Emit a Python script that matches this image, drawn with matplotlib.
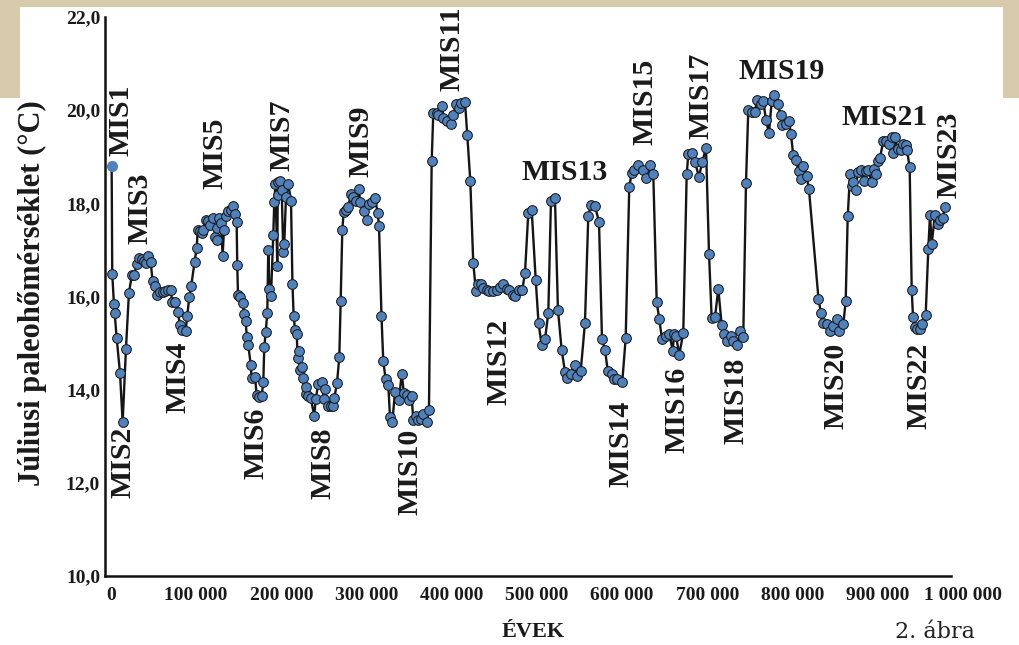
"""
July palaeotemperature curve for the last one million years (MIS stages).
"""
import matplotlib
matplotlib.use('Agg')
import matplotlib.pyplot as plt
from matplotlib.patches import Rectangle

# Age of each sample (thousand years) and reconstructed July temperature (°C)
age_ka = [
    0.8, 1.5, 3.5, 4.3, 6.7, 10.6, 13.7, 17.6, 21.1, 24.6, 27.3, 30.2, 33.2, 36.0, 39.1, 41.1,
    43.8, 46.6, 48.9, 51.6, 54.3, 57.5, 60.7, 63.7, 67.3, 70.4, 71.6, 75.5, 78.6, 81.0, 83.7, 87.7,
    89.6, 91.9, 94.1, 98.2, 100.6, 101.8, 104.5, 106.8, 108.3, 111.5, 114.2, 116.2, 120.1, 122.4,
    124.1, 124.8, 127.1, 128.8, 131.1, 132.6, 135.0, 137.7, 140.8, 143.5, 145.5, 147.5, 148.2,
    149.1, 151.4, 154.6, 156.1, 157.9, 159.6, 161.2, 164.0, 165.1, 169.0, 171.0, 174.1, 176.9,
    178.8, 179.9, 181.6, 183.5,
    184.6, 186.0, 187.8, 190.5, 191.7, 193.1, 195.2, 195.7, 196.4, 198.4, 200.4, 202.2, 203.4,
    205.4, 208.1, 211.3, 213.0, 214.4, 216.0, 218.0, 219.1, 220.7, 221.8, 223.8, 225.7, 228.5,
    229.2, 231.6, 234.4, 238.6, 240.3, 243.3, 247.3, 250.0, 251.2, 254.3, 258.2, 260.2, 262.1,
    265.3, 268.0, 269.6, 271.5, 273.1, 275.5, 278.5, 281.7, 284.4, 287.6, 291.1, 292.3, 297.3,
    300.1, 302.8, 306.0, 309.9, 313.0, 314.6, 317.5, 319.6, 322.4, 325.5, 327.5, 330.2, 333.3,
    338.0, 341.2, 343.9, 347.8, 349.8, 352.9, 354.8, 358.0, 360.7, 363.5, 366.5, 370.5, 373.2,
    376.4, 378.3, 382.3, 384.2, 388.8, 390.0, 394.0, 398.7, 401.8, 404.9, 408.5, 410.8, 415.5,
    418.2, 421.7, 425.2, 428.4, 431.1, 433.9, 437.0, 441.0, 444.0, 448.0, 452.7, 456.6, 460.4,
    464.4, 467.5, 471.5, 474.2, 479.2, 482.7, 485.9, 489.8, 493.8, 498.5, 501.8, 505.5, 509.4,
    513.3, 516.4, 521.1, 524.6, 529.0, 532.9, 535.6, 539.6, 544.6, 547.3, 551.3, 556.3, 560.2,
    563.4, 568.1, 572.8, 576.3, 579.8, 583.0, 587.7, 590.7, 594.3, 600.1, 604.1, 608.3, 611.2,
    614.2, 618.9, 624.1, 627.9, 632.6, 636.5, 640.5, 643.5, 646.7, 651.1, 655.3, 659.3, 661.0,
    663.2, 667.0, 671.7, 675.7, 677.6, 682.3, 685.4, 690.1, 694.0, 698.4, 701.9, 705.0, 708.9,
    712.8, 716.8, 719.8, 722.7, 727.7, 730.4, 734.4, 738.6, 742.1, 745.3, 748.0, 752.7, 755.9,
    757.9, 762.9, 765.6, 768.8, 772.3, 775.5, 778.5, 782.5, 786.0, 787.9, 792.3, 795.8, 798.1,
    800.8, 803.6, 807.5, 809.9, 812.6, 816.5, 819.2, 830.4, 833.3, 836.0, 840.0, 843.9, 847.8,
    851.8, 854.5, 859.5, 862.3, 864.7, 867.4, 869.4, 871.2, 874.1, 876.4, 880.3, 883.8, 886.2,
    888.8, 892.8, 895.9, 897.5, 899.9, 902.6, 906.5, 909.3, 913.1, 917.0, 918.2, 920.2, 923.4,
    927.2, 929.9, 932.7, 934.3, 937.4, 939.8, 941.3, 943.7, 946.4, 949.5, 952.2, 956.2, 959.3,
    961.3, 963.2, 967.1, 970.3, 973.0, 976.1, 978.9,
]
temp_c = [
    18.80, 16.49, 15.83, 15.65, 15.11, 14.36, 13.30, 14.88, 16.08, 16.47, 16.47, 16.69, 16.83,
    16.81, 16.77, 16.72, 16.88, 16.74, 16.33, 16.22, 16.04, 16.09, 16.09, 16.11, 16.15, 16.15,
    15.88, 15.88, 15.66, 15.39, 15.28, 15.27, 15.59, 15.99, 16.22, 16.75, 17.04, 17.42, 17.40,
    17.36, 17.43, 17.65, 17.63, 17.53, 17.69, 17.28, 17.22, 17.48, 17.69, 17.58, 16.88, 17.42,
    17.72, 17.83, 17.85, 17.94, 17.78, 17.60, 16.68, 16.04, 15.99, 15.86, 15.63, 15.47, 15.13,
    14.95, 14.54, 14.25, 14.28, 13.89, 13.85, 13.87, 14.16, 14.91, 15.23, 15.65,
    16.99, 16.17, 16.01, 17.33, 18.03, 18.42, 16.65, 18.17, 18.46, 18.49, 18.28, 16.95, 17.13,
    18.14, 18.42, 18.06, 16.27, 15.59, 15.29, 15.20, 14.68, 14.82, 14.42, 14.48, 14.25, 13.91,
    14.05, 13.87, 13.82, 13.44, 13.80, 14.12, 14.16, 13.80, 14.01, 13.66, 13.64, 13.66, 13.82,
    14.14, 14.71, 15.90, 17.42, 17.81, 17.85, 17.92, 18.21, 18.14, 18.05, 18.30, 18.03, 17.83,
    17.65, 17.98, 18.03, 18.12, 17.79, 17.51, 15.58, 14.61, 14.22, 14.09, 13.42, 13.30, 13.94,
    13.78, 14.34, 13.92, 13.89, 13.78, 13.87, 13.35, 13.44, 13.35, 13.37, 13.48, 13.30, 13.56,
    18.90, 19.94, 19.93, 19.89, 20.09, 19.84, 19.77, 19.70, 19.89, 20.14, 20.04, 20.16, 20.18,
    19.46, 18.49, 16.72, 16.11, 16.27, 16.26, 16.19, 16.13, 16.11, 16.11, 16.14, 16.20, 16.26,
    16.17, 16.13, 16.04, 16.02, 16.14, 16.14, 16.50, 17.79, 17.86, 16.36, 15.43, 14.95, 15.08,
    15.65, 18.05, 18.12, 15.71, 14.85, 14.38, 14.25, 14.34, 14.52, 14.30, 14.39, 15.43, 17.72,
    17.96, 17.94, 17.60, 15.08, 14.86, 14.41, 14.34, 14.22, 14.22, 14.17, 15.10, 18.35, 18.66,
    18.72, 18.82, 18.71, 18.54, 18.82, 18.62, 15.88, 15.52, 15.09, 15.16, 15.20, 14.84, 15.20,
    15.16, 14.75, 15.22, 18.62, 19.05, 19.08, 18.89, 18.57, 18.89, 19.19, 16.92, 15.54, 15.55,
    16.17, 15.38, 15.20, 15.04, 15.16, 15.04, 14.95, 15.25, 15.13, 18.44, 20.01, 19.96, 19.95,
    20.22, 20.13, 20.20, 19.78, 19.51, 20.20, 20.32, 20.14, 19.89, 19.69, 19.71, 19.77, 19.48,
    19.03, 18.92, 18.69, 18.53, 18.80, 18.58, 18.30, 15.95, 15.64, 15.43, 15.40, 15.25, 15.36,
    15.52, 15.25, 15.40, 15.90, 17.72, 18.62, 18.37, 18.45, 18.29, 18.67, 18.71, 18.47, 18.70,
    18.71, 18.46, 18.73, 18.64, 18.91, 18.98, 19.34, 19.34, 19.27, 19.43, 19.07, 19.43, 19.16,
    19.14, 19.28, 19.25, 19.14, 18.77, 16.15, 15.57, 15.34, 15.31, 15.31, 15.40, 15.61, 17.03,
    17.76, 17.12, 17.76, 17.56, 17.65, 17.69, 17.92,
]

# Marine isotope stage labels: name, age (ka), temperature position, vertical or not
mis_names = ['MIS1', 'MIS2', 'MIS3', 'MIS4', 'MIS5', 'MIS6', 'MIS7', 'MIS8', 'MIS9', 'MIS10',
             'MIS11', 'MIS12', 'MIS13', 'MIS14', 'MIS15', 'MIS16', 'MIS17', 'MIS18', 'MIS19',
             'MIS20', 'MIS21', 'MIS22', 'MIS23']
mis_age = [11.7, 14.1, 34.0, 78.6, 122.1, 170.2, 200.7, 248.8, 293.4, 350.9, 400.2, 455.4,
           532.9, 598.6, 626.8, 664.3, 692.5, 733.6, 787.6, 851.0, 908.5, 948.4, 983.6]
mis_temp = [19.78, 12.43, 17.89, 14.26, 19.08, 12.84, 19.46, 12.43, 19.33, 12.24, 21.33, 14.60,
            18.67, 12.84, 20.17, 13.57, 20.30, 13.76, 20.82, 14.09, 19.85, 14.09, 19.03]
mis_vertical = [True] * 23
for horizontal in ('MIS13', 'MIS19', 'MIS21'):
    mis_vertical[mis_names.index(horizontal)] = False

x_ticks = [0, 100000, 200000, 300000, 400000, 500000, 600000, 700000, 800000, 900000, 1000000]
y_ticks = [10, 12, 14, 16, 18, 20, 22]

W, H = 1020, 645
SERIF = 'Liberation Serif'
PARCHMENT = '#d8cbab'

fig = plt.figure(figsize=(W / 100, H / 100), dpi=100, facecolor=PARCHMENT)

# White paper on top of the textured background (kept behind the axes)
fig.patches.append(Rectangle((20 / W, 0), 983 / W, 1 - 7 / H, transform=fig.transFigure,
                             facecolor='white', edgecolor='none', zorder=-2))
fig.patches.append(Rectangle((0, 0), 1, 1 - 98 / H, transform=fig.transFigure,
                             facecolor='white', edgecolor='none', zorder=-2))

# Axes placed in pixels: y axis at x=105, 1 000 000 at x=963, 10 at y=576, 22 at y=17
ax = fig.add_axes([105 / W, 1 - 576 / H, (963 - 105) / W, (576 - 17) / H])
ax.set_zorder(1)
ax.set_facecolor('none')
x_left = -7000
ax.set_xlim(x_left, 1000000)
ax.set_ylim(10, 22)

years = [a * 1000 for a in age_ka]

# Curve and markers (the first sample has no outline)
ax.plot(years, temp_c, color='#151515', lw=1.7, zorder=2, clip_on=False)
ax.plot(years[1:], temp_c[1:], ls='none', marker='o', ms=7, mfc='#4f81bd',
        mec='#1a1a1a', mew=0.75, zorder=3, clip_on=False)
ax.plot(years[:1], temp_c[:1], ls='none', marker='o', ms=7, mfc='#4f81bd',
        mec='#4f81bd', zorder=3, clip_on=False)

# Axis look
for side in ('top', 'right'):
    ax.spines[side].set_visible(False)
for side in ('left', 'bottom'):
    ax.spines[side].set_linewidth(1.8)
    ax.spines[side].set_color('#111111')
ax.spines['bottom'].set_bounds(x_left, 985900)

ax.set_yticks(y_ticks)
ax.set_yticklabels(['{:.1f}'.format(v).replace('.', ',') for v in y_ticks],
                   fontfamily=SERIF, fontweight='bold', fontsize=14, color='#1a1a1a')
ax.set_xticks(x_ticks)
ax.set_xticklabels(['{:,}'.format(v).replace(',', ' ') for v in x_ticks],
                   fontfamily=SERIF, fontweight='bold', fontsize=14, color='#1a1a1a')
ax.tick_params(axis='y', length=0, pad=3.5)
ax.tick_params(axis='x', length=0, pad=8)

# Stage labels
for name, age, temp, vertical in zip(mis_names, mis_age, mis_temp, mis_vertical):
    ax.text(age * 1000, temp, name, rotation=90 if vertical else 0,
            ha='center', va='center', fontfamily=SERIF, fontweight='bold',
            fontsize=21.5, color='#1a1a1a', zorder=4)

# Axis titles and figure caption
fig.text(32 / W, 1 - 293 / H, 'Júliusi paleohőmérséklet (°C)', rotation=90,
         ha='center', va='center', fontfamily=SERIF, fontweight='bold', fontsize=22,
         color='#1a1a1a')
fig.text(533 / W, 1 - 632 / H, 'ÉVEK', ha='center', va='center', fontfamily=SERIF,
         fontweight='bold', fontsize=16, color='#1a1a1a')
fig.text(935 / W, 1 - 632 / H, '2. ábra', ha='center', va='center', fontfamily='DejaVu Serif',
         fontsize=16, color='#222222')

plt.savefig('out.png', dpi=100, facecolor=fig.get_facecolor())
plt.close('all')
